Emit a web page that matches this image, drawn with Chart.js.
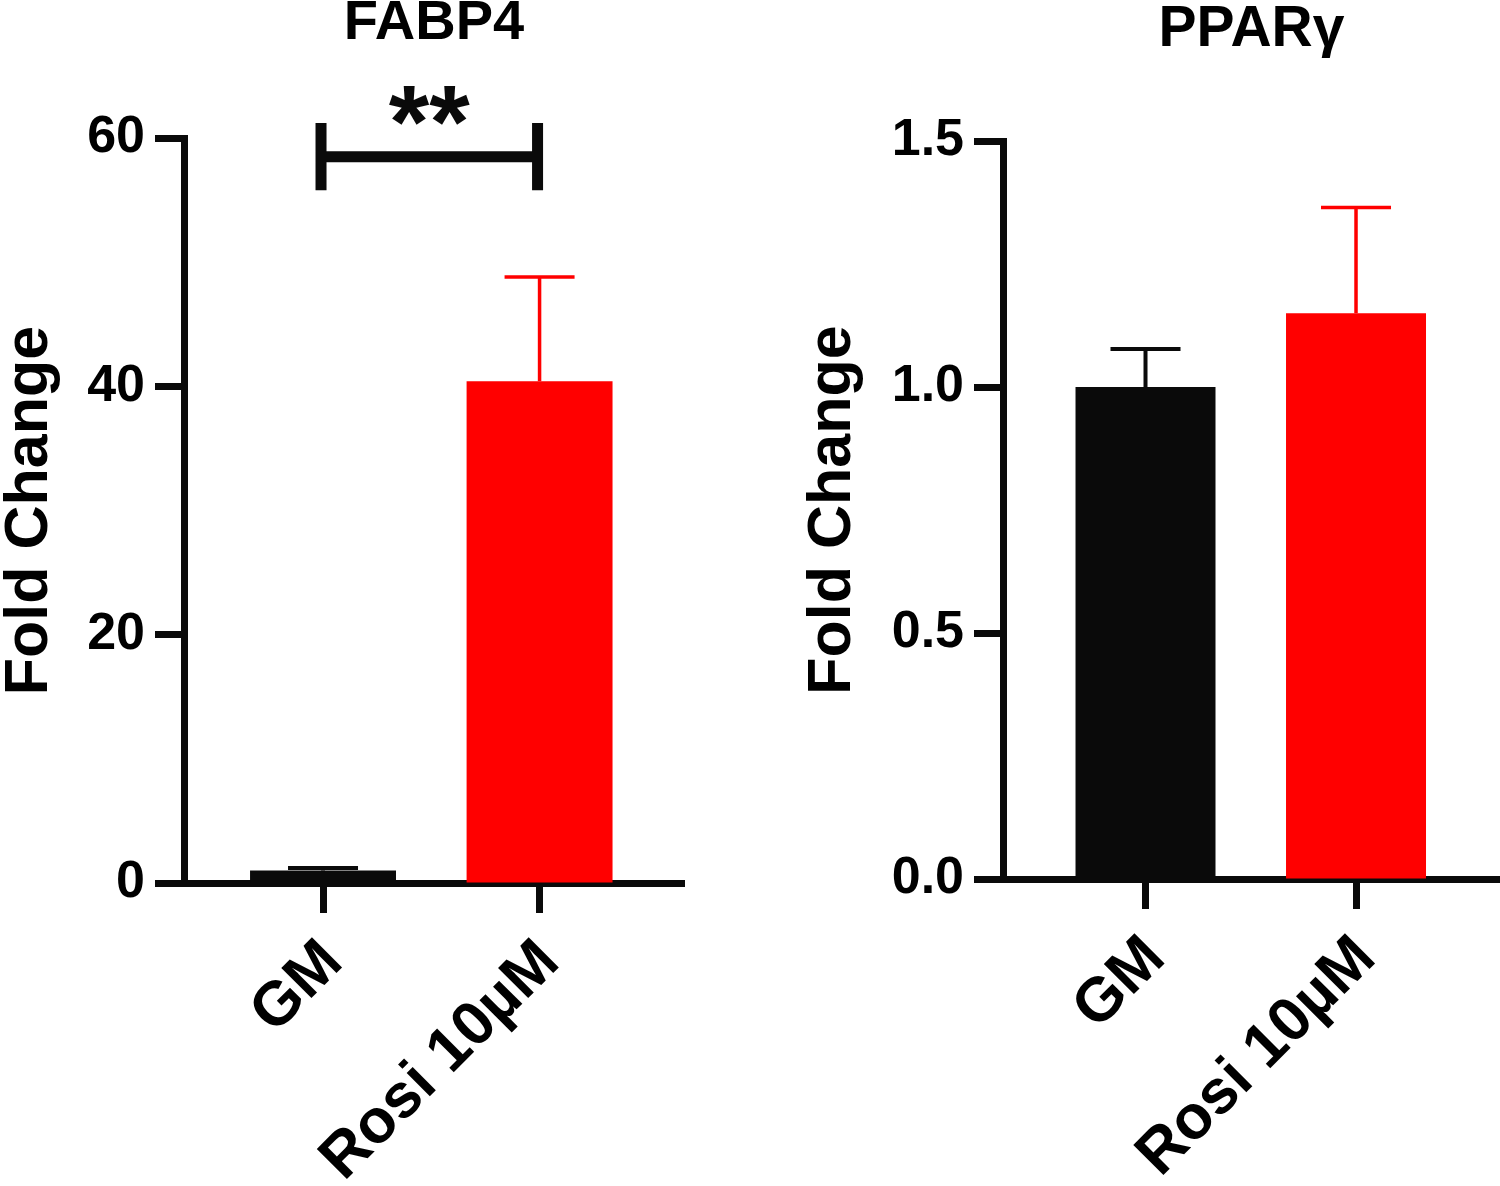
<!DOCTYPE html>
<html>
<head>
<meta charset="utf-8">
<script src="https://cdn.jsdelivr.net/npm/chart.js@4.4.1/dist/chart.umd.min.js"></script>
<style>
  html, body { margin: 0; padding: 0; background: #fff; }
  #wrap { position: relative; width: 1500px; height: 1186px; }
  .panel { position: absolute; top: 0; width: 750px; height: 1186px; }
</style>
</head>
<body>
<div id="wrap">
  <div class="panel" style="left:0"><canvas id="fabp4"></canvas></div>
  <div class="panel" style="left:750px"><canvas id="pparg"></canvas></div>
</div>
<script>
// data
var categories = ['GM', 'Rosi 10\u00B5M'];
var fabp4Mean = [1.0, 40.4];
var fabp4Err = [0.2, 8.4];
var ppargMean = [1.0, 1.15];
var ppargErr = [0.077, 0.215];
var fabp4Ticks = [0, 20, 40, 60];
var ppargTicks = [0, 0.5, 1.0, 1.5];
var fabp4Sig = { from: 0, to: 1, label: '**', level: 58.5 };

var barColors = ['#0a0a0a', '#ff0000'];
var FONT = "'Liberation Sans', Arial, sans-serif";

Chart.defaults.color = '#000';
Chart.defaults.font.family = FONT;

var errorBars = {
  id: 'errorBars',
  afterDatasetsDraw: function (chart) {
    var errs = chart.options.plugins.errorBars.errs;
    var means = chart.data.datasets[0].data;
    var y = chart.scales.y;
    var ctx = chart.ctx;
    chart.getDatasetMeta(0).data.forEach(function (bar, i) {
      var top = y.getPixelForValue(means[i].y + errs[i]);
      ctx.save();
      ctx.strokeStyle = barColors[i];
      ctx.lineWidth = i === 0 ? 4 : 3.5;
      ctx.beginPath();
      ctx.moveTo(bar.x, bar.y);
      ctx.lineTo(bar.x, top);
      ctx.moveTo(bar.x - 35, top);
      ctx.lineTo(bar.x + 35, top);
      ctx.stroke();
      ctx.restore();
    });
  }
};

var sigBracket = {
  id: 'sigBracket',
  afterDraw: function (chart) {
    var sig = chart.options.plugins.sigBracket.sig;
    if (!sig) return;
    var x = chart.scales.x, y = chart.scales.y, ctx = chart.ctx;
    var x0 = x.getPixelForValue(sig.from) - 2;
    var x1 = x.getPixelForValue(sig.to) - 2;
    var yl = y.getPixelForValue(sig.level);
    var yt = y.getPixelForValue(sig.level + 2.7);
    var yb = y.getPixelForValue(sig.level - 2.7);
    ctx.save();
    ctx.strokeStyle = '#0a0a0a';
    ctx.lineWidth = 11;
    ctx.beginPath();
    ctx.moveTo(x0, yt); ctx.lineTo(x0, yb);
    ctx.moveTo(x1, yt); ctx.lineTo(x1, yb);
    ctx.moveTo(x0, yl); ctx.lineTo(x1, yl);
    ctx.stroke();
    ctx.fillStyle = '#0a0a0a';
    ctx.font = 'bold 104px ' + FONT;
    ctx.textAlign = 'center';
    ctx.textBaseline = 'alphabetic';
    var m = ctx.measureText(sig.label);
    var cy = y.getPixelForValue(sig.level + 4.1);
    ctx.fillText(sig.label, (x0 + x1) / 2, cy + (m.actualBoundingBoxAscent - m.actualBoundingBoxDescent) / 2);
    ctx.restore();
  }
};

function makeChart(id, o) {
  return new Chart(document.getElementById(id), {
    type: 'bar',
    data: {
      datasets: [{
        data: o.means.map(function (v, i) { return { x: i, y: v }; }),
        backgroundColor: barColors,
        borderWidth: 0,
        barPercentage: o.barPct,
        categoryPercentage: 1
      }]
    },
    options: {
      responsive: true,
      maintainAspectRatio: false,
      animation: false,
      layout: { padding: { left: o.padLeft, right: o.padRight, top: 0, bottom: 0 } },
      plugins: {
        legend: { display: false },
        tooltip: { enabled: false },
        title: {
          display: true,
          text: o.title,
          fullSize: false,
          font: { size: o.titleSize, weight: 'bold', lineHeight: o.titleLH },
          padding: { top: 0, bottom: o.top - o.titleLH * o.titleSize }
        },
        errorBars: { errs: o.errs },
        sigBracket: { sig: o.sig }
      },
      scales: {
        x: {
          type: 'linear',
          offset: false,
          min: o.xMin,
          max: o.xMax,
          z: 1,
          afterBuildTicks: function (s) {
            s.ticks = categories.map(function (c, i) { return { value: i }; });
          },
          afterFit: function (s) { s.height = 1186 - o.bottom; },
          grid: { offset: false, drawOnChartArea: false, tickLength: 30, tickWidth: 7, color: '#0a0a0a' },
          border: { width: 7, color: '#0a0a0a' },
          ticks: {
            autoSkip: false,
            minRotation: 45,
            maxRotation: 45,
            padding: 13,
            labelOffset: 10,
            font: { size: 62, weight: 'bold' },
            callback: function (v) { return categories[v]; }
          }
        },
        y: {
          min: o.ticks[0],
          max: o.ticks[o.ticks.length - 1],
          afterBuildTicks: function (s) {
            s.ticks = o.ticks.map(function (v) { return { value: v }; });
          },
          afterFit: function (s) { s.width = o.axisX - o.padLeft; },
          grid: { drawOnChartArea: false, tickLength: 29, tickWidth: 7, color: '#0a0a0a' },
          border: { width: 7, color: '#0a0a0a' },
          ticks: {
            padding: 10,
            font: { size: 52, weight: 'bold' },
            callback: function (v) { return o.decimals ? v.toFixed(o.decimals) : v; }
          },
          title: {
            display: true,
            text: 'Fold Change',
            padding: 0,
            font: { size: 61, weight: 'bold', lineHeight: 1 }
          }
        }
      }
    },
    plugins: [errorBars, sigBracket]
  });
}

makeChart('fabp4', {
  title: 'FABP4', titleSize: 56, titleLH: 0.857,
  means: fabp4Mean, errs: fabp4Err, ticks: fabp4Ticks, decimals: 0, sig: fabp4Sig,
  padLeft: 0, padRight: 66, axisX: 184, top: 138, bottom: 883,
  xMin: -0.642, xMax: 1.667, barPct: 0.674
});

makeChart('pparg', {
  title: 'PPAR\u03B3', titleSize: 57, titleLH: 1.06,
  means: ppargMean, errs: ppargErr, ticks: ppargTicks, decimals: 1, sig: null,
  padLeft: 53, padRight: 0, axisX: 253, top: 141, bottom: 879,
  xMin: -0.677, xMax: 1.684, barPct: 0.665
});
</script>
</body>
</html>
